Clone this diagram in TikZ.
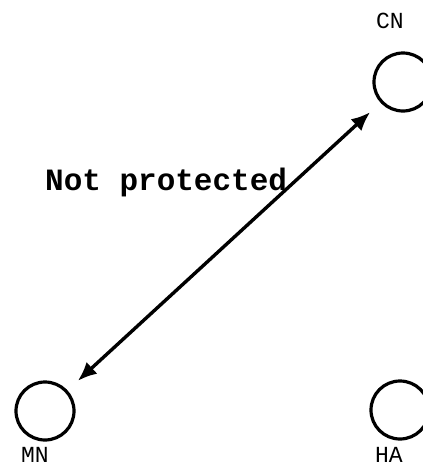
\documentclass[tikz,border=0pt]{standalone}
\usepackage{fontspec}
\setmonofont{Liberation Mono}
\usetikzlibrary{arrows.meta, positioning}
\tikzset{
  host/.style={circle, draw, line width=3.2pt, minimum size=58pt, inner sep=0pt},
  hostname/.style={font=\ttfamily\fontsize{23}{23}\selectfont, inner sep=0pt, anchor=base},
  link/.style={{Latex[length=19pt,width=16pt]}-{Latex[length=19pt,width=16pt]}, line width=3.4pt,
               shorten <=14pt, shorten >=14pt},
  note/.style={font=\ttfamily\bfseries\fontsize{31}{31}\selectfont, inner sep=0pt},
}
\begin{document}
\begin{tikzpicture}[x=1pt, y=-1pt]
  \clip (0,0) rectangle (423,467);
  % the three hosts
  \node[host] (cn) at (403,82) {};
  \node[host] (mn) at (45,411) {};
  \node[host] (ha) at (400,410) {};
  \node[hostname] (cnname) at (390,28) {CN};
  \node[hostname] (mnname) at (35,462) {MN};
  \node[hostname] (haname) at (389,462) {HA};
  % unprotected path between mobile and correspondent
  \draw[link] (mn) -- (cn);
  \node[note, anchor=base west] (unprot) at (45,190) {Not protected};
\end{tikzpicture}
\end{document}
